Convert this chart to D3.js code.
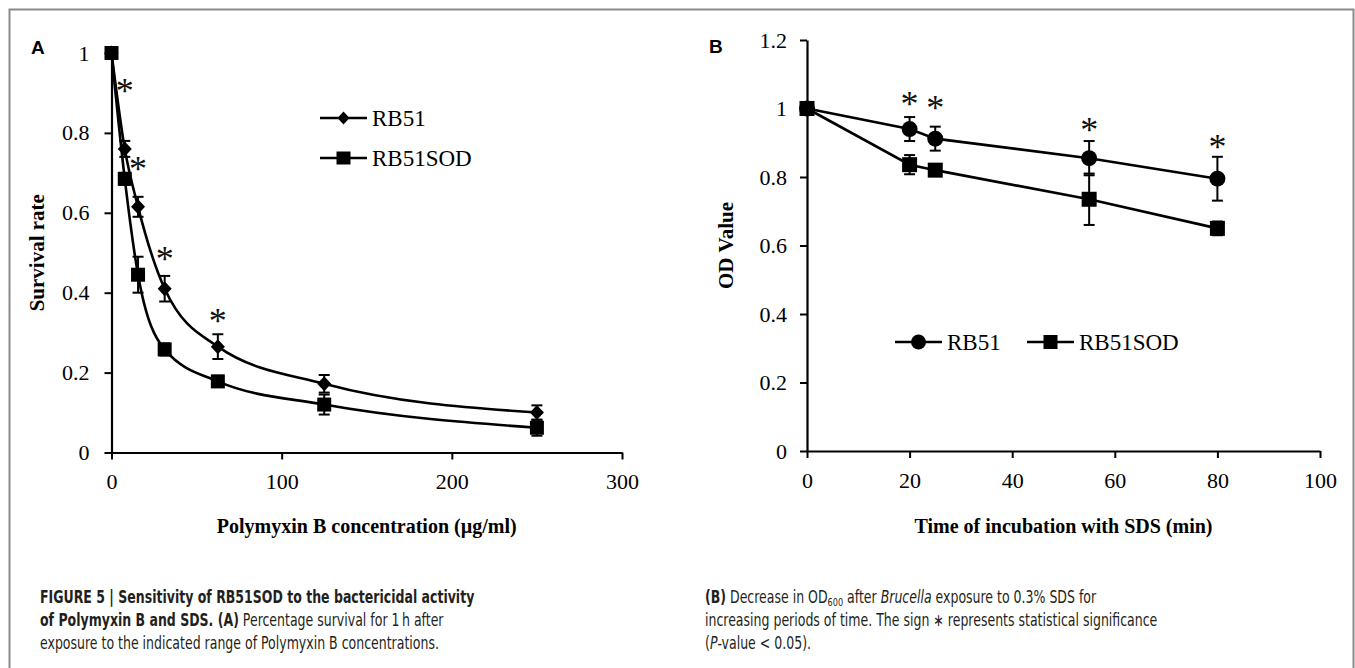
<!DOCTYPE html>
<html><head><meta charset="utf-8">
<script src="https://cdn.jsdelivr.net/npm/d3@7"></script>
<style>
html,body{margin:0;padding:0;background:#fff;}
svg{display:block;}
</style>
</head><body>
<svg id="chart" width="1355" height="668"></svg>
<script>
// ---------- Data: Panel A (Polymyxin B) ----------
const concA = [0, 7.8, 15.6, 31.25, 62.5, 125, 250];
const rb51A = [1, 0.76, 0.615, 0.41, 0.265, 0.172, 0.10];
const rb51AErr = [0, 0.02, 0.025, 0.032, 0.031, 0.022, 0.018];
const sodA = [1, 0.685, 0.445, 0.258, 0.178, 0.12, 0.062];
const sodAErr = [0, 0.015, 0.045, 0.015, 0.014, 0.025, 0.02];
const starA_x = [7.8, 15.6, 31.25, 62.5];
const starA_y = [0.92, 0.725, 0.50, 0.345];
const ticksAx = [0, 100, 200, 300];
const ticksAy = [0, 0.2, 0.4, 0.6, 0.8, 1];

// ---------- Data: Panel B (SDS) ----------
const timeB = [0, 20, 25, 55, 80];
const rb51B = [1, 0.94, 0.912, 0.855, 0.795];
const rb51BErr = [0, 0.035, 0.035, 0.05, 0.064];
const sodB = [1, 0.836, 0.82, 0.735, 0.65];
const sodBErr = [0, 0.028, 0.01, 0.075, 0.02];
const starB_x = [20, 25, 55, 80];
const starB_y = [1.03, 1.02, 0.956, 0.904];
const ticksBx = [0, 20, 40, 60, 80, 100];
const ticksBy = [0, 0.2, 0.4, 0.6, 0.8, 1, 1.2];

const seriesNames = ["RB51", "RB51SOD"];

const SERIF = "'Liberation Serif','Times New Roman',serif";
const SANS = "'Liberation Sans',Arial,sans-serif";
const NARROW = "'Liberation Sans Narrow','Arial Narrow','DejaVu Sans Condensed',sans-serif";

const svg = d3.select("#chart");

// frame
svg.append("path")
  .attr("d", "M9.5,668 L9.5,9.5 L1353.5,9.5 L1353.5,668")
  .attr("fill", "none").attr("stroke", "#8a8a8a").attr("stroke-width", 2);

function fmt(d){ return d3.format("~g")(d); }

function drawPanel(cfg){
  const g = svg.append("g");
  const x = d3.scaleLinear().domain(cfg.xDomain).range(cfg.xRange);
  const y = d3.scaleLinear().domain(cfg.yDomain).range(cfg.yRange);

  const ax = g.append("g").attr("transform", `translate(0,${cfg.yRange[0]})`)
    .call(d3.axisBottom(x).tickValues(cfg.xTicks).tickSize(7).tickSizeOuter(0).tickPadding(14).tickFormat(fmt));
  const ay = g.append("g").attr("transform", `translate(${cfg.xRange[0]},0)`)
    .call(d3.axisLeft(y).tickValues(cfg.yTicks).tickSize(7).tickSizeOuter(0).tickPadding(cfg.yPad).tickFormat(fmt));
  [ax, ay].forEach(a => {
    a.selectAll("path.domain").attr("stroke", "#000").attr("stroke-width", 2.2);
    a.selectAll(".tick line").attr("stroke", "#000").attr("stroke-width", 2);
    a.selectAll(".tick text").attr("font-family", SERIF).attr("font-size", 22).attr("fill", "#000");
  });

  const line = d3.line().x(d => x(d[0])).y(d => y(d[1])).curve(cfg.curve);

  cfg.series.forEach(s => {
    const pts = cfg.xs.map((xv, i) => [xv, s.vals[i], s.err[i]]);
    g.append("path").datum(pts).attr("d", line)
      .attr("fill", "none").attr("stroke", "#000").attr("stroke-width", 2.6);
    const eb = g.append("g").selectAll("g").data(pts.filter(p => p[2] > 0)).join("g");
    eb.append("line").attr("x1", d => x(d[0])).attr("x2", d => x(d[0]))
      .attr("y1", d => y(d[1] + d[2])).attr("y2", d => y(d[1] - d[2]))
      .attr("stroke", "#000").attr("stroke-width", 2);
    [1, -1].forEach(sg => {
      eb.append("line").attr("x1", d => x(d[0]) - 5.5).attr("x2", d => x(d[0]) + 5.5)
        .attr("y1", d => y(d[1] + sg * d[2])).attr("y2", d => y(d[1] + sg * d[2]))
        .attr("stroke", "#000").attr("stroke-width", 2);
    });
    g.append("g").selectAll("path").data(pts).join("path")
      .attr("transform", d => `translate(${x(d[0])},${y(d[1])})`)
      .attr("d", s.marker).attr("fill", "#000");
  });

  // asterisks
  const fs = 36;
  g.append("g").selectAll("text").data(cfg.starX.map((v, i) => [v, cfg.starY[i]])).join("text")
    .attr("x", d => x(d[0])).attr("y", d => y(d[1]) + fs * 0.5)
    .attr("text-anchor", "middle").attr("font-family", SERIF).attr("font-size", fs)
    .attr("fill", "#111")
    .text("*");

  g.append("text").attr("x", (cfg.xRange[0] + cfg.xRange[1]) / 2).attr("y", cfg.xTitleY)
    .attr("text-anchor", "middle").attr("font-family", SERIF).attr("font-weight", "bold")
    .attr("font-size", 20).text(cfg.xTitle);
  g.append("text")
    .attr("transform", `translate(${cfg.yTitleX},${(cfg.yRange[0] + cfg.yRange[1]) / 2}) rotate(-90)`)
    .attr("text-anchor", "middle").attr("font-family", SERIF).attr("font-weight", "bold")
    .attr("font-size", 21).text(cfg.yTitle);

  g.append("text").attr("x", cfg.letterX).attr("y", cfg.letterY)
    .attr("font-family", SANS).attr("font-weight", "bold").attr("font-size", 19).text(cfg.letter);

  return g;
}

const diamond = "M0,-7.5L7,0L0,7.5L-7,0Z";
const squareA = "M-7,-7H7V7H-7Z";
const squareB = "M-7.5,-7.5H7.5V7.5H-7.5Z";
const circleB = d3.symbol().type(d3.symbolCircle).size(Math.PI * 8 * 8)();

const gA = drawPanel({
  xDomain: [0, 300], xRange: [111.5, 622], yDomain: [0, 1], yRange: [452.5, 53],
  xTicks: ticksAx, yTicks: ticksAy, yPad: 15,
  xs: concA, curve: d3.curveMonotoneX,
  series: [
    {vals: rb51A, err: rb51AErr, marker: diamond},
    {vals: sodA, err: sodAErr, marker: squareA}
  ],
  starX: starA_x, starY: starA_y,
  xTitle: "Polymyxin B concentration (\u00b5g/ml)", xTitleY: 533,
  yTitle: "Survival rate", yTitleX: 44,
  letter: "A", letterX: 31, letterY: 54
});

const gB = drawPanel({
  xDomain: [0, 100], xRange: [807, 1320], yDomain: [0, 1.2], yRange: [451, 40],
  xTicks: ticksBx, yTicks: ticksBy, yPad: 13,
  xs: timeB, curve: d3.curveLinear,
  series: [
    {vals: rb51B, err: rb51BErr, marker: circleB},
    {vals: sodB, err: sodBErr, marker: squareB}
  ],
  starX: starB_x, starY: starB_y,
  xTitle: "Time of incubation with SDS (min)", xTitleY: 533,
  yTitle: "OD Value", yTitleX: 733,
  letter: "B", letterX: 709, letterY: 53
});

function legendRow(g, x0, yc, marker, label){
  g.append("line").attr("x1", x0).attr("x2", x0 + 47).attr("y1", yc).attr("y2", yc)
    .attr("stroke", "#000").attr("stroke-width", 2.6);
  g.append("path").attr("transform", `translate(${x0 + 23.5},${yc})`).attr("d", marker).attr("fill", "#000");
  g.append("text").attr("x", x0 + 52).attr("y", yc).attr("dy", "0.35em")
    .attr("font-family", SERIF).attr("font-size", 23).text(label);
}
legendRow(gA, 320, 118, "M0,-6.5L6,0L0,6.5L-6,0Z", seriesNames[0]);
legendRow(gA, 320, 158, "M-7,-6.5H7V6.5H-7Z", seriesNames[1]);
legendRow(gB, 895, 342, d3.symbol().type(d3.symbolCircle).size(Math.PI * 7.5 * 7.5)(), seriesNames[0]);
legendRow(gB, 1027, 342, "M-7,-7H7V7H-7Z", seriesNames[1]);

// captions (condensed sans, horizontally compressed)
function capGroup(x0){
  return svg.append("g").attr("transform", `translate(${x0},0) scale(0.82,1)`)
    .attr("font-family", NARROW).attr("font-size", 17).attr("fill", "#231f20");
}
const capL = capGroup(40);
const c1 = capL.append("text").attr("x", 0).attr("y", 603);
c1.append("tspan").attr("font-weight", "bold").text("FIGURE 5 | Sensitivity of RB51SOD to the bactericidal activity");
const c2 = capL.append("text").attr("x", 0).attr("y", 626);
c2.append("tspan").attr("font-weight", "bold").text("of Polymyxin B and SDS. (A)");
c2.append("tspan").text(" Percentage survival for 1\u2009h after");
capL.append("text").attr("x", 0).attr("y", 649).text("exposure to the indicated range of Polymyxin B concentrations.");

const capR = capGroup(705);
const r1 = capR.append("text").attr("x", 0).attr("y", 603);
r1.append("tspan").attr("font-weight", "bold").text("(B)");
r1.append("tspan").text(" Decrease in OD");
r1.append("tspan").attr("font-size", 11).attr("dy", 3).text("600");
r1.append("tspan").attr("dy", -3).text(" after ");
r1.append("tspan").attr("font-style", "italic").text("Brucella");
r1.append("tspan").text(" exposure to 0.3% SDS for");
capR.append("text").attr("x", 0).attr("y", 626).text("increasing periods of time. The sign \u2217 represents statistical significance");
const r3 = capR.append("text").attr("x", 0).attr("y", 649);
r3.append("tspan").text("(");
r3.append("tspan").attr("font-style", "italic").text("P");
r3.append("tspan").text("-value < 0.05).");
</script>
</body></html>
